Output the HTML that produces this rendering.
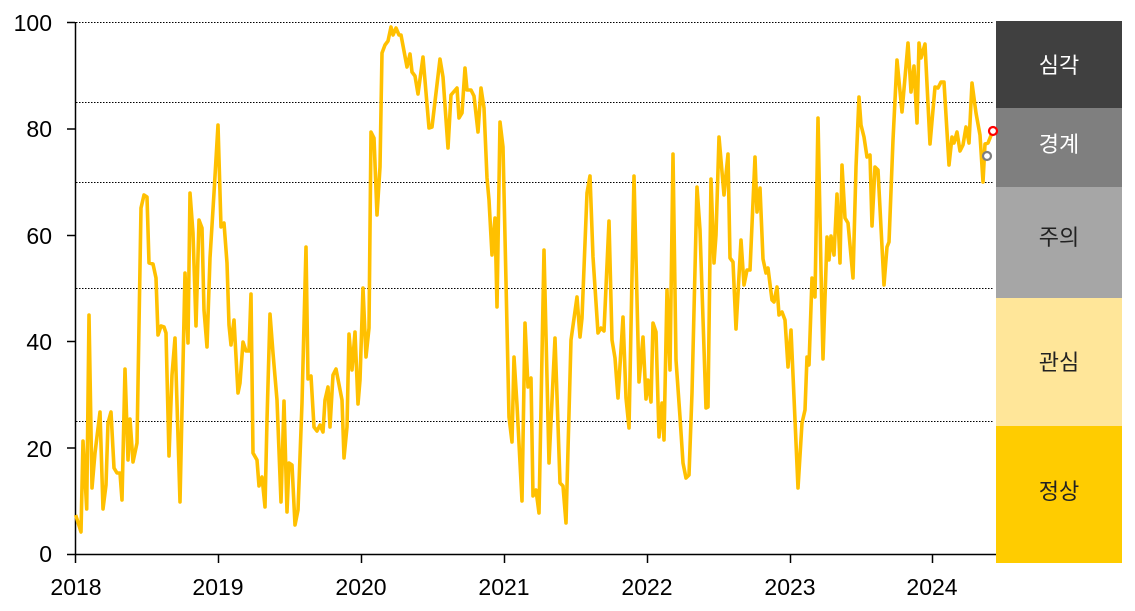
<!DOCTYPE html>
<html><head><meta charset="utf-8"><style>
html,body{margin:0;padding:0;background:#fff;}
svg{display:block;font-family:"Liberation Sans","Noto Sans CJK KR",sans-serif;}
</style></head><body>
<svg width="1135" height="611" viewBox="0 0 1135 611" xmlns="http://www.w3.org/2000/svg">
<rect x="996" y="21" width="126" height="87" fill="#404040"/>
<rect x="996" y="108" width="126" height="79" fill="#7f7f7f"/>
<rect x="996" y="187" width="126" height="111" fill="#a6a6a6"/>
<rect x="996" y="298" width="126" height="128" fill="#ffe699"/>
<rect x="996" y="426" width="126" height="137" fill="#ffcc00"/>
<g font-size="22" text-anchor="middle">
<text x="1059" y="73" fill="#fff">심각</text>
<text x="1059" y="152" fill="#fff">경계</text>
<text x="1059" y="245" fill="#222">주의</text>
<text x="1059" y="370" fill="#222">관심</text>
<text x="1059" y="499" fill="#222">정상</text>
</g>
<g stroke="#000" stroke-width="1" stroke-dasharray="1.5,1.5">
<line x1="76" y1="22.5" x2="994" y2="22.5"/>
<line x1="76" y1="102.5" x2="994" y2="102.5"/>
<line x1="76" y1="182.5" x2="994" y2="182.5"/>
<line x1="76" y1="288.5" x2="994" y2="288.5"/>
<line x1="76" y1="421.5" x2="994" y2="421.5"/>
</g>
<g stroke="#000" stroke-width="1.5">
<line x1="75.5" y1="22" x2="75.5" y2="563"/>
<line x1="67" y1="554.5" x2="996" y2="554.5"/>
<line x1="67" y1="22.5" x2="75" y2="22.5"/>
<line x1="67" y1="129" x2="75" y2="129"/>
<line x1="67" y1="235.5" x2="75" y2="235.5"/>
<line x1="67" y1="341.5" x2="75" y2="341.5"/>
<line x1="67" y1="448" x2="75" y2="448"/>
<line x1="218.5" y1="554" x2="218.5" y2="563"/>
<line x1="361.5" y1="554" x2="361.5" y2="563"/>
<line x1="504.5" y1="554" x2="504.5" y2="563"/>
<line x1="647.5" y1="554" x2="647.5" y2="563"/>
<line x1="790.5" y1="554" x2="790.5" y2="563"/>
<line x1="932.5" y1="554" x2="932.5" y2="563"/>
</g>
<g font-size="23" fill="#000" text-anchor="end">
<text x="52" y="31">100</text>
<text x="52" y="137">80</text>
<text x="52" y="244">60</text>
<text x="52" y="350">40</text>
<text x="52" y="457">20</text>
<text x="52" y="562">0</text>
</g>
<g font-size="23" fill="#000" text-anchor="middle">
<text x="76" y="595">2018</text>
<text x="218" y="595">2019</text>
<text x="361" y="595">2020</text>
<text x="504" y="595">2021</text>
<text x="647" y="595">2022</text>
<text x="790" y="595">2023</text>
<text x="932" y="595">2024</text>
</g>
<polyline fill="none" stroke="#ffc000" stroke-width="3.6" stroke-linejoin="round" points="75.7,515 81,532 83,441 86.7,509 89,315 92,488 95,453 100,412 103,509 106,485 108,423 111,412 114,468 117,473 120,473 122,500 125,369 128,460 130,419 133,462 137,443 141,208 144,195 147,197 149,263 153,264 156,278 158,335 161,326 164,327 166,333 169,456 172,375 175,338 180,502 185,273 188,343 190,193 193,233 196,326 199,220 202,228 204,310 207,347 210,258 214,193 218,125 221,227 224,223 227,263 229,325 231,345 234,320 238,393 240,383 243,342 246,351 249,351 251,294 253,453 257,460 259,486 262,477 265,507 267,420 270,314 273,353 277,400 281,502 284,401 287,512 289,463 292,465 295,525 298,510 302,403 306,247 308,379 311,376 314,427 317,431 320,425 323,432 325,400 328,387 330,427 333,375 336,369 342,400 344,458 347,427 349,334 352,370 355,332 358,404 360,380 363,288 366,357 369,328 371,132 374,138 377,215 380,167 382,53 385,45 388,41 391,27 393,35 396,28 399,35 401,35 407,67 410,54 412,72 415,76 418,94 423,57 429,128 432,127 440,59 443,77 448,148 451,95 457,88 459,118 462,113 465,68 467,90 471,90 474,96 478,132 481,88 484,108 487,178 489,200 492,255 495,218 497,307 500,122 503,147 509,417 512,442 514,357 517,405 522,501 525,323 528,387 531,378 533,496 536,490 539,513 544,250 549,463 555,338 560,483 563,486 566,523 571,340 577,297 580,337 582,318 587,193 590,176 593,257 598,333 601,328 604,331 609,221 612,340 615,358 618,398 623,317 626,398 629,428 634,176 639,382 643,337 646,399 648,380 651,402 653,323 656,332 659,437 662,403 664,440 667,290 670,370 673,154 676,360 680,417 683,463 686,478 689,475 692,393 697,187 700,230 706,408 708,407 711,179 714,263 716,235 719,137 724,195 728,154 730,258 733,262 736,329 741,240 744,285 747,270 750,270 755,157 757,212 760,188 763,259 766,273 768,268 772,300 774,302 777,287 779,315 782,312 785,320 788,367 791,330 795,420 798,488 802,423 805,410 807,357 809,365 812,278 815,297 818,118 821,270 823,359 827,237 829,260 831,236 834,255 837,194 840,263 842,165 845,218 848,223 853,278 856,167 859,97 861,125 864,137 867,157 870,155 872,226 875,167 878,170 884,285 887,247 889,242 893,140 897,60 902,112 908,43 911,92 914,66 917,123 919,43 921,58 925,44 930,144 935,87 938,88 941,82 944,82 949,165 952,137 954,143 957,132 960,151 963,145 966,127 969,143 972,83 976,113 980,135 983,182 985,144 988,143 992,133"/>
<circle cx="987" cy="156" r="4" fill="#fff" stroke="#7f7f7f" stroke-width="2.2"/>
<circle cx="993" cy="131" r="4" fill="#fff" stroke="#ff0000" stroke-width="2.2"/>
</svg>
</body></html>
